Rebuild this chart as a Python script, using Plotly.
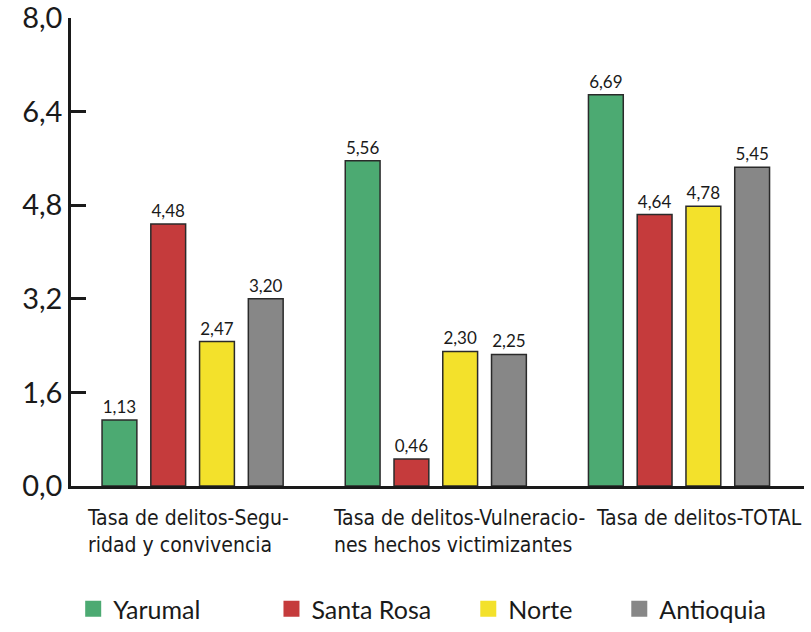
"""Tasa de delitos: Yarumal, Santa Rosa, Norte y Antioquia."""

import plotly.graph_objects as go

categories = ["seguridad", "vulneraciones", "total"]
category_labels = [
    "Tasa de delitos-Segu-<br>ridad y convivencia",
    "Tasa de delitos-Vulneracio-<br>nes hechos victimizantes",
    "Tasa de delitos-TOTAL",
]
series_names = ["Yarumal", "Santa Rosa", "Norte", "Antioquia"]
yarumal = [1.13, 5.56, 6.69]
santa_rosa = [4.48, 0.46, 4.64]
norte = [2.47, 2.30, 4.78]
antioquia = [3.20, 2.25, 5.45]
y_ticks = [0.0, 1.6, 3.2, 4.8, 6.4, 8.0]

colors = ["#4caa72", "#c53b3c", "#f3e12b", "#878787"]
legend_x = [0.003, 0.2735, 0.542, 0.748]
label_shift = [-108, -105, -85]
font_main = "Lato, Open Sans, sans-serif"
font_narrow = "Liberation Sans Narrow, DejaVu Sans Condensed, sans-serif"

fig = go.Figure()
for i, (name, values, color) in enumerate(
    zip(series_names, [yarumal, santa_rosa, norte, antioquia], colors)
):
    legend_id = "legend" if i == 0 else f"legend{i + 1}"
    fig.add_trace(
        go.Bar(
            x=categories,
            y=values,
            name=name,
            showlegend=False,
            marker={"color": color, "line": {"color": "#2a2a2a", "width": 1.5}},
            texttemplate="%{y:.2f}",
            textposition="outside",
            textfont={"family": font_main, "size": 17, "color": "#1a1a1a"},
            cliponaxis=False,
        )
    )
    # legend swatch only
    fig.add_trace(
        go.Scatter(
            x=[None],
            y=[None],
            name=name,
            mode="markers",
            marker={"symbol": "square", "size": 16, "color": color},
            legend=legend_id,
        )
    )
    fig.update_layout(
        {
            legend_id: {
                "orientation": "h",
                "x": legend_x[i],
                "xanchor": "left",
                "y": -0.263,
                "yanchor": "middle",
                "itemsizing": "trace",
                "font": {"family": font_main, "size": 25, "color": "#1a1a1a"},
                "bgcolor": "rgba(0,0,0,0)",
                "borderwidth": 0,
            }
        }
    )

for cat, label, shift in zip(categories, category_labels, label_shift):
    fig.add_annotation(
        x=cat,
        y=0,
        xref="x",
        yref="y",
        text=label,
        showarrow=False,
        xanchor="left",
        yanchor="top",
        align="left",
        xshift=shift,
        yshift=-18,
        font={"family": font_narrow, "size": 21, "color": "#1a1a1a"},
    )

fig.update_layout(
    width=811,
    height=632,
    separators=",.",
    paper_bgcolor="white",
    plot_bgcolor="white",
    margin={"l": 71, "r": 7, "t": 18, "b": 146, "autoexpand": False},
    barmode="group",
    bargap=0.198,
    bargroupgap=0.286,
    xaxis={
        "showticklabels": False,
        "showline": True,
        "linecolor": "#1a1a1a",
        "linewidth": 2.5,
        "ticks": "",
        "showgrid": False,
        "automargin": False,
    },
    yaxis={
        "range": [0, 8],
        "tickvals": y_ticks,
        "tickformat": ".1f",
        "ticks": "inside",
        "ticklen": 15,
        "tickwidth": 2.5,
        "tickcolor": "#1a1a1a",
        "ticksuffix": " ",
        "showline": True,
        "linecolor": "#1a1a1a",
        "linewidth": 2.5,
        "showgrid": False,
        "zeroline": False,
        "automargin": False,
        "ticklabeloverflow": "allow",
        "tickfont": {"family": font_main, "size": 29, "color": "#1a1a1a"},
    },
)

fig.write_html(
    "out.html",
    config={"displayModeBar": False},
    post_script="document.body.style.margin='0';document.body.style.padding='0';",
)
